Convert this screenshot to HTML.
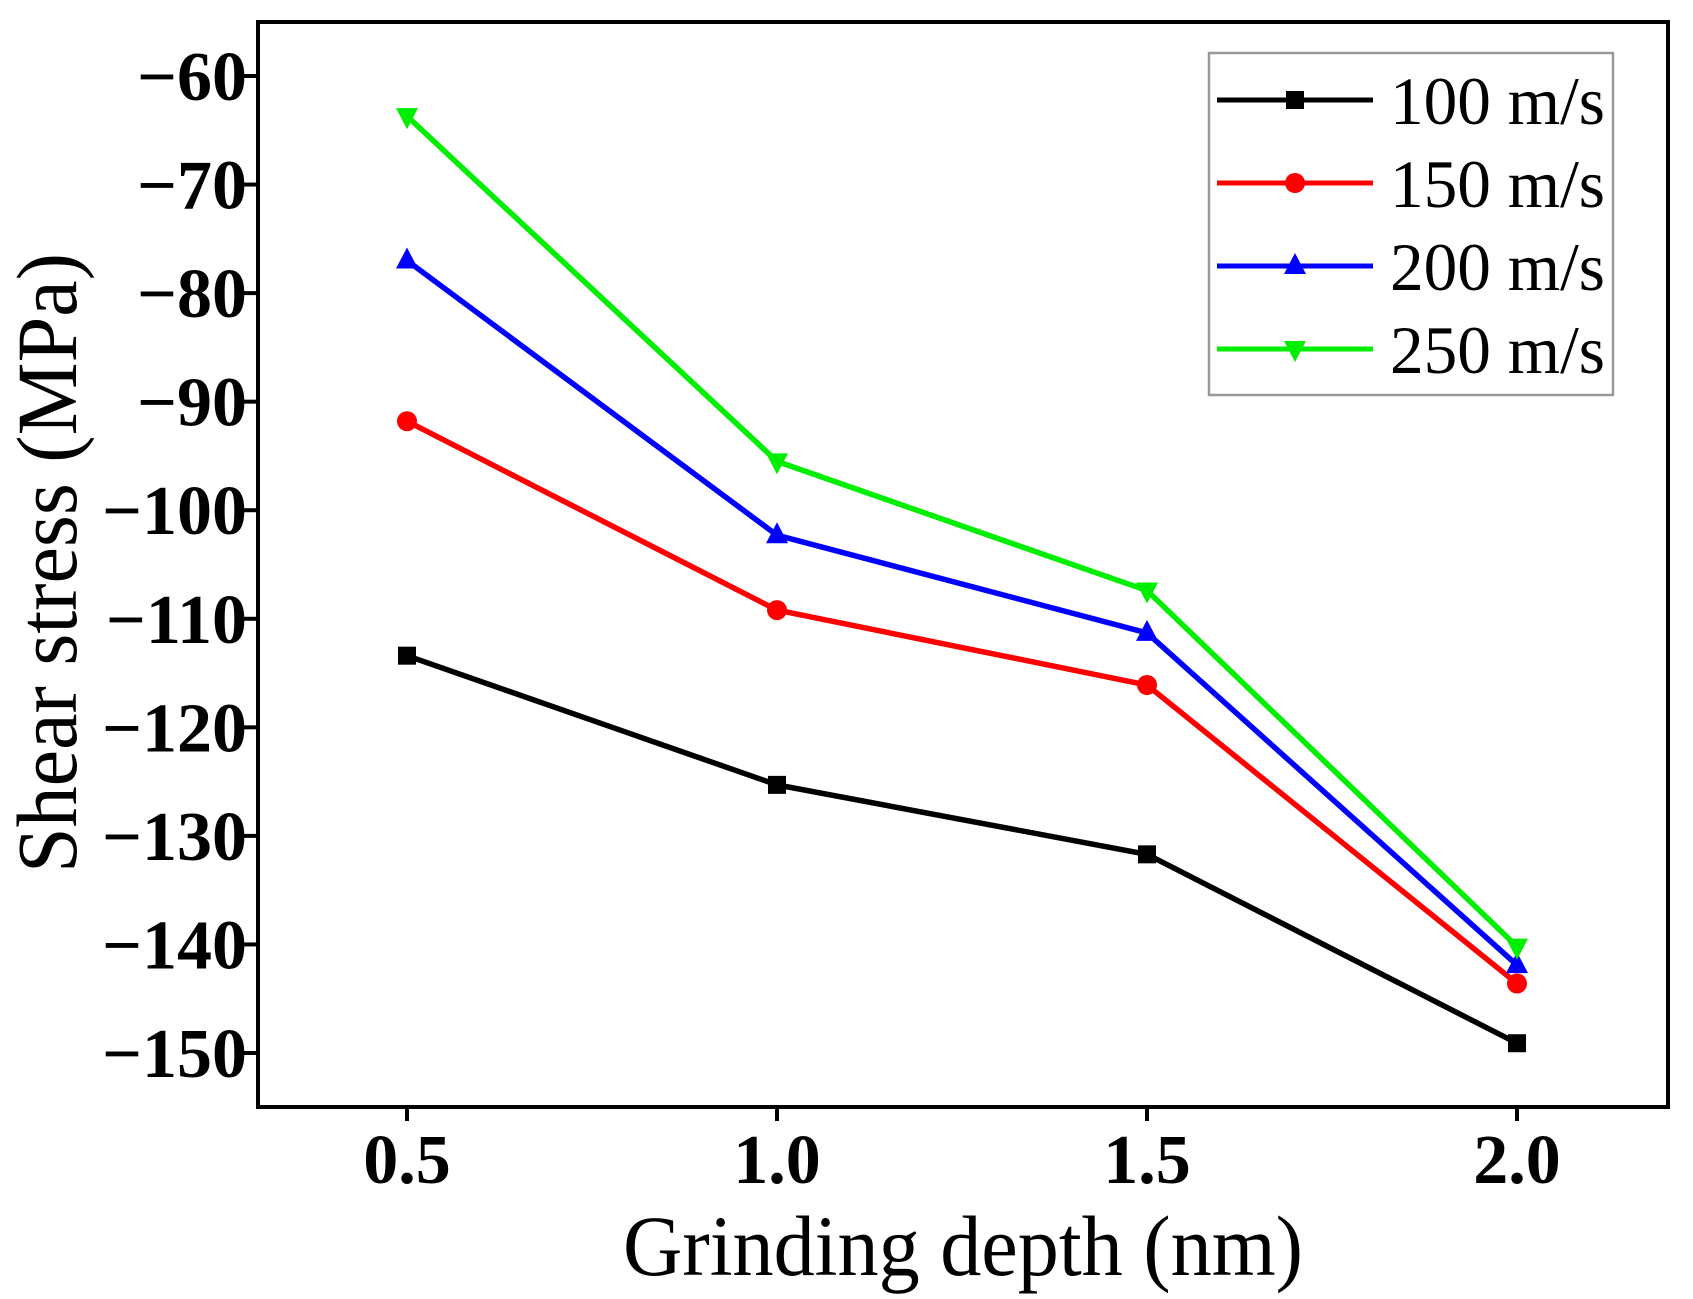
<!DOCTYPE html>
<html><head><meta charset="utf-8"><style>body{margin:0;background:#fff}svg{display:block}</style></head>
<body>
<svg id="chart" width="1693" height="1299" viewBox="0 0 1693 1299" xmlns="http://www.w3.org/2000/svg" font-family="'Liberation Serif', serif">
<g id="plot"></g>
</svg>
<script>
const xValues = [0.5, 1.0, 1.5, 2.0];
const xTickLabels = ["0.5", "1.0", "1.5", "2.0"];
const yTicks = [-60, -70, -80, -90, -100, -110, -120, -130, -140, -150];
const seriesNames = ["100 m/s", "150 m/s", "200 m/s", "250 m/s"];
const s100 = [-113.4, -125.3, -131.7, -149.1];
const s150 = [-91.8, -109.2, -116.1, -143.6];
const s200 = [-77.0, -102.3, -111.3, -141.9];
const s250 = [-63.7, -95.5, -107.4, -140.2];

const NS = "http://www.w3.org/2000/svg";
const L = 258, R = 1668, T = 22, B = 1107;
function xs(v){ return 407 + (v - 0.5) * (1517 - 407) / 1.5; }
function ys(v){ return 76 + (-60 - v) * (1053 - 76) / 90; }
const g = document.getElementById('plot');
function el(tag, attrs, parent){ const e = document.createElementNS(NS, tag); for (const k in attrs) e.setAttribute(k, attrs[k]); (parent||g).appendChild(e); return e; }

const frame = el('rect', {x:L, y:T, width:R-L, height:B-T, fill:'none', stroke:'#000', 'stroke-width':4});



yTicks.forEach(t => {
  const y = ys(t);
  const tk = el('line', {x1:L-14, x2:L, y1:y, y2:y, stroke:'#000', 'stroke-width':4});
  
  
  const tx = el('text', {x:247, y:y+24, 'text-anchor':'end', 'font-size':70, 'font-weight':'bold'});
  tx.textContent = '\u2212' + Math.abs(t);
  
  
});
xValues.forEach((v, i) => {
  const x = xs(v);
  const tk = el('line', {x1:x, x2:x, y1:B, y2:B+14, stroke:'#000', 'stroke-width':4});
  
  
  const tx = el('text', {x:x, y:1183, 'text-anchor':'middle', 'font-size':70, 'font-weight':'bold'});
  tx.textContent = xTickLabels[i];
  
  
});
const xt = el('text', {x:963, y:1275, 'text-anchor':'middle', 'font-size':86, textLength:680, lengthAdjust:'spacingAndGlyphs'});
xt.textContent = 'Grinding depth (nm)';


const yt = el('text', {x:0, y:0, 'text-anchor':'middle', 'font-size':86, textLength:620, lengthAdjust:'spacingAndGlyphs', transform:'translate(76,563) rotate(-90)'});
yt.textContent = 'Shear stress (MPa)';



const colors = ['#000000', '#ff0000', '#0000ff', '#00ee00'];
const allSeries = [s100, s150, s200, s250];
function marker(k, x, y, parent){
  let m;
  if (k === 0) m = el('rect', {x:x-9, y:y-9, width:18, height:18, fill:colors[k]}, parent);
  else if (k === 1) m = el('circle', {cx:x, cy:y, r:10, fill:colors[k]}, parent);
  else if (k === 2) m = el('polygon', {points:`${x},${y-13} ${x-11},${y+8} ${x+11},${y+8}`, fill:colors[k]}, parent);
  else m = el('polygon', {points:`${x},${y+13} ${x-11},${y-8} ${x+11},${y-8}`, fill:colors[k]}, parent);
  return m;
}
allSeries.forEach((s, k) => {
  const sg = el('g', {});
  
  
  const pts = s.map((v, i) => xs(xValues[i]) + ',' + ys(v)).join(' ');
  el('polyline', {points:pts, fill:'none', stroke:colors[k], 'stroke-width':5.5, 'stroke-linejoin':'round'}, sg);
  s.forEach((v, i) => {
    const m = marker(k, xs(xValues[i]), ys(v), sg);
    
    
  });
});

const lg = el('g', {});


el('rect', {x:1209, y:53, width:404, height:342, fill:'#fff', stroke:'#999', 'stroke-width':2.5}, lg);
seriesNames.forEach((n, k) => {
  const y = 100 + k * 83;
  const eg = el('g', {}, lg);
  
  
  el('line', {x1:1217, x2:1373, y1:y, y2:y, stroke:colors[k], 'stroke-width':5}, eg);
  marker(k, 1295, y, eg);
  const t = el('text', {x:1390, y:y+24, 'font-size':68, textLength:215, lengthAdjust:'spacingAndGlyphs'}, eg);
  t.textContent = n;
});
</script>
</body></html>
